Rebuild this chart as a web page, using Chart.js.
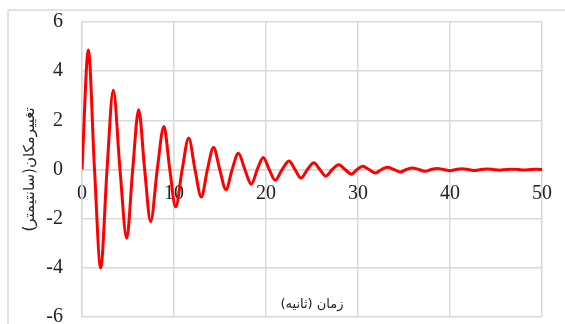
<!DOCTYPE html>
<html><head><meta charset="utf-8">
<script src="https://cdn.jsdelivr.net/npm/chart.js@4/dist/chart.umd.min.js"></script>
<style>html,body{margin:0;padding:0;background:#fff}#wrap{width:565px;height:324px;position:relative}</style>
</head><body><div id="wrap"><canvas id="c" width="565" height="324"></canvas></div>
<script>
const timeValues = [0, 0.69, 1.36, 2.03, 2.72, 3.4, 4.13, 4.86, 5.51, 6.16, 6.81, 7.46, 8.18, 8.9, 9.54, 10.18, 10.89, 11.6, 12.28, 12.97, 13.63, 14.3, 14.97, 15.65, 16.32, 17.0, 17.7, 18.4, 19.05, 19.7, 20.35, 21.0, 21.75, 22.5, 23.15, 23.8, 24.5, 25.2, 25.85, 26.5, 27.2, 27.9, 28.6, 29.3, 29.9, 30.5, 31.2, 31.9, 32.55, 33.2, 33.9, 34.6, 35.25, 35.9, 36.6, 37.3, 37.95, 38.6, 39.3, 40.0, 40.65, 41.3, 42.0, 42.7, 43.35, 44.0, 44.7, 45.4, 46.05, 46.7, 47.4, 48.1, 48.75, 49.4, 50];
const displacementValues = [0, 4.86, 0, -4.0, 0, 3.22, 0, -2.8, 0, 2.43, 0, -2.12, 0, 1.75, 0, -1.52, 0, 1.28, 0, -1.12, 0, 0.9, 0, -0.82, 0, 0.66, 0, -0.6, 0, 0.49, 0, -0.44, 0, 0.35, 0, -0.35, 0, 0.27, 0, -0.27, 0, 0.19, 0, -0.19, 0, 0.13, 0, -0.14, 0, 0.09, 0, -0.1, 0, 0.06, 0, -0.07, 0, 0.04, 0, -0.05, 0, 0.03, 0, -0.04, 0, 0.02, 0, -0.03, 0, 0.015, 0, -0.02, 0, 0.01, 0];
const xTickValues = [0, 10, 20, 30, 40, 50];
const yTickValues = [-6, -4, -2, 0, 2, 4, 6];
const xAxisTitle = 'زمان (ثانیه)';
const yAxisTitle = 'تغییرمکان(سانتیمتر)';

const points = timeValues.map((t, i) => ({x: t, y: displacementValues[i]}));

const frame = {
  id: 'frame',
  beforeDraw(chart) {
    const c = chart.ctx;
    c.save();
    c.fillStyle = '#ffffff';
    c.fillRect(0, 0, chart.width, chart.height);
    c.strokeStyle = '#d9d9d9';
    c.lineWidth = 1.5;
    c.strokeRect(8, 10, chart.width + 20, chart.height + 20);
    c.restore();
  }
};

new Chart(document.getElementById('c'), {
  type: 'line',
  data: {datasets: [{data: points, borderColor: '#ff0000', borderWidth: 3, pointRadius: 0, cubicInterpolationMode: 'monotone', fill: false}]},
  options: {
    responsive: false, animation: false, devicePixelRatio: 1,
    layout: {padding: {left: 0, top: 22, right: 23, bottom: 7}},
    plugins: {legend: {display: false}, tooltip: {enabled: false}},
    scales: {
      x: {
        type: 'linear', position: {y: 0}, min: 0, max: 50,
        afterBuildTicks(s) { s.ticks = xTickValues.map(v => ({value: v})); },
        afterFit(s) { s.height = 0; s.paddingLeft = 0; s.paddingRight = 0; },
        grid: {color: '#d9d9d9', lineWidth: 1.5, drawTicks: false},
        border: {color: '#d9d9d9', width: 1.5},
        ticks: {padding: 12, font: {family: 'Liberation Serif', size: 20}, color: '#222', maxRotation: 0, autoSkip: false},
        title: {display: true, text: xAxisTitle, font: {family: 'DejaVu Sans', size: 13}, color: '#222', padding: {top: 0, bottom: -142.5}}
      },
      y: {
        type: 'linear', position: 'left', min: -6, max: 6,
        afterBuildTicks(s) { s.ticks = yTickValues.map(v => ({value: v})); },
        afterFit(s) { s.width = 82; s.paddingTop = 0; s.paddingBottom = 0; },
        grid: {color: '#d9d9d9', lineWidth: 1.5, drawTicks: false},
        border: {color: '#d9d9d9', width: 1.5},
        ticks: {padding: 19, font: {family: 'Liberation Serif', size: 20}, color: '#222', autoSkip: false},
        title: {display: true, text: yAxisTitle, font: {family: 'DejaVu Sans', size: 15}, color: '#222', padding: {top: 21, bottom: 0}}
      }
    }
  },
  plugins: [frame]
});
</script></body></html>
